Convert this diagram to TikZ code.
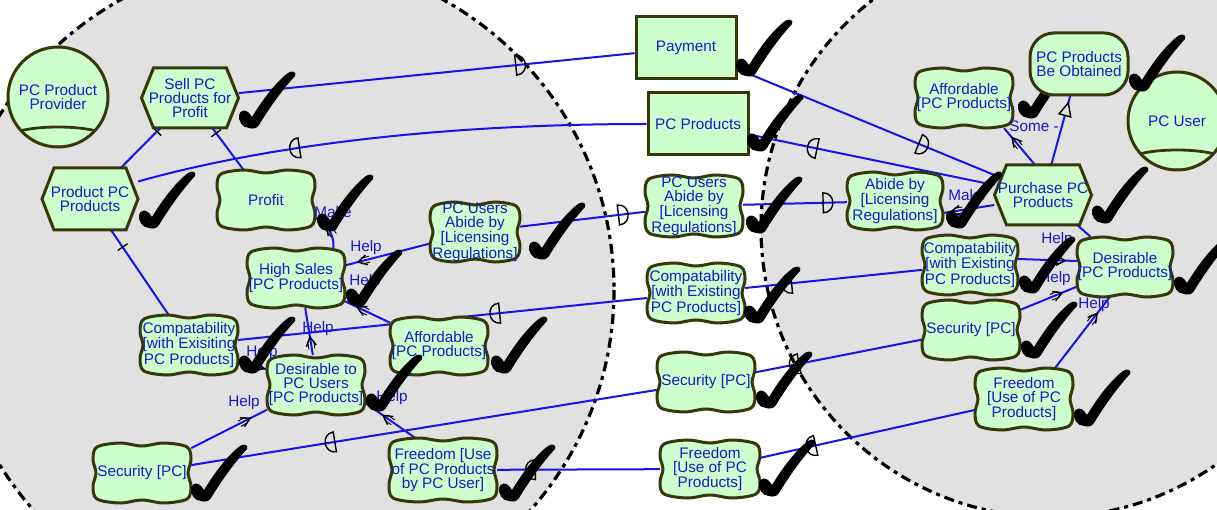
\documentclass[tikz,border=0pt]{standalone}
\usepackage{fontspec}
\setmainfont{Liberation Sans}
\definecolor{elemfill}{RGB}{204,255,204}
\definecolor{elemline}{RGB}{55,55,10}
\definecolor{txtblue}{RGB}{25,25,200}
\definecolor{linkblue}{RGB}{20,20,235}
\definecolor{actorgray}{RGB}{225,225,225}
\pgfdeclarelayer{bg}
\pgfdeclarelayer{links}
\pgfdeclarelayer{front}
\pgfsetlayers{bg,links,main,front}

\tikzset{
  elem/.style={draw=elemline, line width=3pt, fill=elemfill},
  txt/.style={text=txtblue, font=\fontsize{15.3}{14}\selectfont, align=center, inner sep=0pt},
  link/.style={draw=linkblue, line width=2pt},
  onlink/.style={sloped, allow upside down},
  boundary/.style={fill=actorgray, draw=black, line width=3.2pt,
    dash pattern=on 10pt off 5pt on 4pt off 5pt},
  pics/dright/.style={code={\draw[black, line width=1.4pt] (-4,-10) -- (-4,10)
    .. controls (9,10) and (9,-10) .. (-4,-10) -- cycle;}},
  pics/dleft/.style={code={\draw[black, line width=1.4pt] (4,-10) -- (4,10)
    .. controls (-9,10) and (-9,-10) .. (4,-10) -- cycle;}},
  pics/helpmark/.style={code={\draw[black, line width=1.4pt] (-9,-5) -- (0,0) -- (-9,5);
    \draw[black, line width=0.9pt] (-12,-3) -- (-4,-3) (-12,3) -- (-4,3);}},
  pics/meansend/.style={code={\draw[black, line width=1.4pt, fill=actorgray]
    (0,0) -- (-13,-6) -- (-13,6) -- cycle;}},
  pics/decomp/.style={code={\draw[black, line width=1.3pt] (0,-6) -- (0,6);}},
  pics/checkmark/.style={code={\fill[black] (0,2) .. controls (-7,2) and (-11,-6) .. (-10,-11)
    .. controls (-9,-16) and (-3,-17) .. (0,-13) -- (3,-9)
    .. controls (14,-27) and (27,-44) .. (39,-53)
    .. controls (43,-56) and (48,-54) .. (46,-50)
    .. controls (33,-36) and (19,-16) .. (10,-1)
    .. controls (7,3) and (4,3) .. (0,2) -- cycle;}},
}

% softgoal: name, x, y, half width, half height, text
\newcommand\softgoal[6]{%
  \draw[elem, shift={(#2,#3)}] plot[smooth cycle, tension=0.55] coordinates {
    ({-#4+4},{-#5+4}) ({-0.45*#4},{-#5}) (0,{-#5+3}) ({0.45*#4},{-#5}) ({#4-4},{-#5+4})
    ({#4},{-0.45*#5}) ({#4-3},0) ({#4},{0.45*#5}) ({#4-4},{#5-4})
    ({0.45*#4},{#5}) (0,{#5-3}) ({-0.45*#4},{#5}) ({-#4+4},{#5-4})
    ({-#4},{0.45*#5}) ({-#4+3},0) ({-#4},{-0.45*#5})};
  \node[txt, minimum width={2*#4}, minimum height={2*#5}] (#1) at (#2,#3) {#6};
}
% task: name, x, y, half width, half height, text
\newcommand\taskhex[6]{%
  \draw[elem, shift={(#2,#3)}] ({-#4},0) -- ({-#4+12},{-#5}) -- ({#4-12},{-#5})
    -- ({#4},0) -- ({#4-12},{#5}) -- ({-#4+12},{#5}) -- cycle;
  \node[txt, minimum width={2*#4}, minimum height={2*#5}] (#1) at (#2,#3) {#6};
}
% goal: name, x, y, half width, half height, text
\newcommand\goalbox[6]{%
  \draw[elem, rounded corners=24pt, shift={(#2,#3)}] ({-#4},{-#5}) rectangle ({#4},{#5});
  \node[txt, minimum width={2*#4}, minimum height={2*#5}] (#1) at (#2,#3) {#6};
}
% resource: name, x, y, width, height, text
\newcommand\resource[6]{%
  \node[elem, txt, minimum width=#4, minimum height=#5] (#1) at (#2,#3) {#6};
}
% actor: name, x, y, radius, text
\newcommand\actor[5]{%
  \node[elem, txt, circle, minimum size={2*#4}] (#1) at (#2,#3) {#5};
  \begin{scope}
    \clip (#2,#3) circle[radius=#4];
    \draw[draw=elemline, line width=2.8pt] (#2,{#3+#4-10}) ellipse[x radius={0.95*#4}, y radius=10];
  \end{scope}
}

\begin{document}
\begin{tikzpicture}[x=1pt, y=-1pt]
\useasboundingbox (0,0) rectangle (1217,510);

\begin{pgfonlayer}{bg}
  \fill[white] (0,0) rectangle (1217,510);
  \begin{scope}
    \clip (0,0) rectangle (1217,510);
    \draw[boundary] (282,290) circle[radius=332];
    \draw[boundary] (1050,228) circle[radius=289];
  \end{scope}
\end{pgfonlayer}

% provider side
\actor{provider}{58}{97}{50}{PC Product\\Provider}
\taskhex{sell}{190}{98}{48.5}{30}{Sell PC\\Products for\\Profit}
\taskhex{product}{90}{199}{48}{31}{Product PC\\Products}
\softgoal{profit}{266}{200}{49}{30}{Profit}
\softgoal{highsales}{296}{278}{49}{30}{High Sales\\{[PC Products]}}
\softgoal{abideL}{475}{232}{45}{30}{PC Users\\Abide by\\{[Licensing}\\Regulations]}
\softgoal{compatL}{189}{345}{49}{30}{Compatability\\{[with Exisiting}\\PC Products]}
\softgoal{affordL}{439}{346}{49}{29}{Affordable\\{[PC Products]}}
\softgoal{desireL}{316}{385}{49}{30}{Desirable to\\PC Users\\{[PC Products]}}
\softgoal{securityL}{142}{473}{49}{30}{Security [PC]}
\softgoal{freedomL}{443}{470}{54}{32}{Freedom [Use\\of PC Products\\by PC User]}

% dependums
\resource{payment}{686}{48}{100}{62}{Payment}
\resource{pcprod}{698}{124}{100}{62}{PC Products}
\softgoal{abideM}{694}{206}{49}{31}{PC Users\\Abide by\\{[Licensing}\\Regulations]}
\softgoal{compatM}{696}{293}{49}{30}{Compatability\\{[with Existing}\\PC Products]}
\softgoal{securityM}{706}{382}{49}{30}{Security [PC]}
\softgoal{freedomM}{710}{469}{50}{29}{Freedom\\{[Use of PC}\\Products]}

% user side
\actor{user}{1177}{121}{49}{PC User}
\softgoal{affordR}{964}{98}{49}{30}{Affordable\\{[PC Products]}}
\pic at (1028,116) {checkmark};
\goalbox{obtained}{1079}{64}{49}{31}{PC Products\\Be Obtained}
\taskhex{purchase}{1043}{195}{48.5}{30}{Purchase PC\\Products}
\softgoal{abideR}{895}{201}{48}{29}{Abide by\\{[Licensing}\\Regulations]}
\softgoal{compatR}{970}{265}{48}{30}{Compatability\\{[with Existing}\\PC Products]}
\softgoal{desireR}{1125}{267}{48}{30}{Desirable\\{[PC Products]}}
\softgoal{securityR}{971}{330}{49}{30}{Security [PC]}
\softgoal{freedomR}{1024}{399}{49}{31}{Freedom\\{[Use of PC}\\Products]}

% link labels
\node[txt] (mkProfit) at (333,212) {Make};
\node[txt] (hpAbide) at (366,248) {Help};
\node[txt] (hpAfford) at (365,282) {Help};
\node[txt] (hpDesire) at (318,329) {Help};
\node[txt] (hpCompat) at (262,353) {Help};
\node[txt] (hpSecurity) at (244,403) {Help};
\node[txt] (hpFreedom) at (392,398) {Help};
\node[txt] (mkAbide) at (967,195) {Make};
\node[txt] (someAfford) at (1034,126) {Some -};
\node[txt] (hpCompatR) at (1057,240) {Help};
\node[txt] (hpSecurityR) at (1055,279) {Help};
\node[txt] (hpFreedomR) at (1094,305) {Help};

\begin{pgfonlayer}{links}
  % dependencies between the two actors
  \draw[link] (sell) -- (payment) pic[pos=.71, onlink]{dright};
  \draw[link] (payment) -- (purchase) pic[pos=.72, onlink]{dright};
  \draw[link] (product.20) .. controls (250,150) and (420,124) .. (pcprod.west) pic[pos=.39, onlink]{dleft};
  \draw[link] (pcprod) -- (purchase) pic[pos=.26, onlink]{dleft};
  \draw[link] (abideL) -- (abideM) pic[pos=.82, onlink]{dright};
  \draw[link] (abideM) -- (abideR) pic[pos=.81, onlink]{dright};
  \draw[link] (compatL) -- (compatM) pic[pos=.63, onlink]{dleft};
  \draw[link] (compatM) -- (compatR) pic[pos=.24, onlink]{dleft};
  \draw[link] (securityL) -- (securityM) pic[pos=.30, onlink]{dleft};
  \draw[link] (securityM) -- (securityR) pic[pos=.24, onlink]{dleft};
  \draw[link] (freedomL) -- (freedomM) pic[pos=.21, onlink]{dleft};
  \draw[link] (freedomM) -- (freedomR) pic[pos=.24, onlink]{dleft};
  % provider internals
  \draw[link] (product) -- (sell) pic[pos=.92, onlink]{decomp};
  \draw[link] (profit) -- (sell) pic[pos=.88, onlink]{decomp};
  \draw[link] (product) -- (compatL) pic[pos=.2, onlink]{decomp};
  \draw[link] (highsales.39) .. controls (335,234) and (325,222) .. (profit.-20) pic[pos=.6, onlink]{helpmark};
  \draw[link] (abideL) -- (highsales) pic[pos=.85, onlink]{helpmark};
  \draw[link] (affordL) -- (highsales) pic[pos=.73, onlink]{helpmark};
  \draw[link] (desireL.96) -- (highsales.-73) pic[pos=.38, onlink]{helpmark};
  \draw[link] (compatL) -- (desireL) pic[pos=.9, onlink]{helpmark};
  \draw[link] (securityL) -- (desireL) pic[pos=.78, onlink]{helpmark};
  \draw[link] (freedomL.131) -- (desireL.-20) pic[pos=.64, onlink]{helpmark};
  % user internals
  \draw[link] (purchase) -- (obtained) pic[pos=.89, onlink]{meansend};
  \draw[link] (purchase.105) -- (affordR.-37) pic[pos=.74, onlink]{helpmark};
  \draw[link] (purchase) -- (desireR);
  \draw[link] ([yshift=-10pt]purchase.west) -- ([yshift=-12pt]abideR.east) pic[pos=.85, onlink]{helpmark};
  \draw[link] ([yshift=6pt]compatR.east) -- ([yshift=6pt]desireR.west) pic[pos=.8, onlink]{helpmark};
  \draw[link] (securityR) -- (desireR) pic[pos=.74, onlink]{helpmark};
  \draw[link] (freedomR.45) -- (desireR.-117) pic[pos=.77, onlink]{helpmark};
\end{pgfonlayer}

\begin{pgfonlayer}{front}
  \pic at (249,126) {checkmark};
  \pic at (149,226) {checkmark};
  \pic at (327,229) {checkmark};
  \pic at (356,304) {checkmark};
  \pic at (539,257) {checkmark};
  \pic at (249,371) {checkmark};
  \pic at (376,409) {checkmark};
  \pic at (501,371) {checkmark};
  \pic at (201,499) {checkmark};
  \pic at (509,499) {checkmark};
  \pic at (746,74) {checkmark};
  \pic at (757,149) {checkmark};
  \pic at (756,231) {checkmark};
  \pic at (754,321) {checkmark};
  \pic at (766,406) {checkmark};
  \pic at (769,494) {checkmark};
  \pic at (1139,89) {checkmark};
  \pic at (1102,221) {checkmark};
  \pic at (956,226) {checkmark};
  \pic at (1029,291) {checkmark};
  \pic at (1184,292) {checkmark};
  \pic at (1031,356) {checkmark};
  \pic at (1084,424) {checkmark};
\end{pgfonlayer}
\end{tikzpicture}
\end{document}
